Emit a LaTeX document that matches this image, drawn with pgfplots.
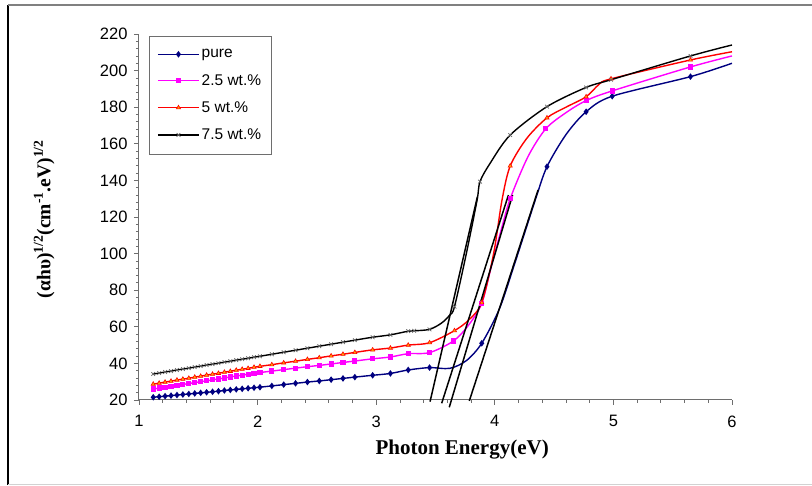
\documentclass[border=0pt]{standalone}
\usepackage{fontspec}
\setmainfont{Liberation Sans}
\newfontfamily\tnr{Liberation Serif}
\usepackage{pgfplots}
\pgfplotsset{compat=1.18}
\definecolor{navyc}{RGB}{0,0,128}
\definecolor{magc}{RGB}{255,0,255}
\definecolor{redc}{RGB}{255,0,0}
\definecolor{axisc}{RGB}{110,110,110}
\begin{document}
\begin{tikzpicture}[x=1pt,y=1pt]
\useasboundingbox (0,0) rectangle (812,486);
\draw[black, line width=1.2pt] (8,1) -- (8,481);
\draw[gray, line width=1.2pt] (8,481) -- (812,481);
\draw[gray!35, line width=1pt] (8,1) -- (812,1);
\begin{axis}[
  at={(139pt,86pt)}, anchor=south west,
  scale only axis, width=593pt, height=366pt,
  xmin=1, xmax=6, ymin=20, ymax=220,
  xtick={1,2,...,6}, ytick={20,40,...,220},
  minor x tick num=4, minor y tick num=4,
  axis lines=left, axis line style={-, axisc, line width=1pt},
  tick style={axisc, line width=0.8pt},
  tick align=outside,
  major tick length=5pt, minor tick length=3pt,
  /pgf/number format/assume math mode=true,
  ticklabel style={font=\fontsize{16.5}{18}\selectfont},
  xticklabel style={yshift=-7pt},
  yticklabel style={xshift=-3pt},
  xlabel={\tnr\bfseries Photon Energy(eV)},
  ylabel={\tnr\bfseries (αhυ)\textsuperscript{1/2}(cm\textsuperscript{-1}.eV)\textsuperscript{1/2}},
  xlabel style={font=\fontsize{21}{24}\selectfont, at={(axis description cs:0.545,-0.135)}, anchor=center},
  ylabel style={font=\fontsize{19.5}{22}\selectfont, at={(axis description cs:-0.160,0.4945)}, anchor=center},
  clip=false,
  every axis plot/.append style={line width=1.4pt, smooth, tension=0.5},
  legend style={at={(0.017,0.994)}, anchor=north west, draw=axisc,
    font=\fontsize{15.5}{18}\selectfont, row sep=11pt, inner xsep=8pt, inner ysep=11pt,
    cells={anchor=west}, /tikz/every even column/.style={column sep=7pt}},
  legend image code/.code={\draw[#1, mark indices={2}] plot coordinates {(0pt,0pt) (20.5pt,0pt) (41pt,0pt)};},
  legend image post style={line width=1.4pt},
]
% pure
\addplot[navyc, mark=diamond*, mark size=2.2pt, mark options={solid},
  mark indices={1,2,3,4,5,6,7,8,9,10,11,12,13,14,15,16,17,18,19,20,21,22,23,24,25,26,27,28,29,30,31,34,39,41,42,43}]
coordinates {
(1.12,21.5) (1.17,21.8) (1.22,22.1) (1.27,22.4) (1.32,22.7) (1.37,23.0) (1.42,23.3) (1.47,23.6)
(1.52,23.9) (1.57,24.2) (1.62,24.5) (1.67,24.8) (1.72,25.2) (1.77,25.5) (1.82,25.8) (1.87,26.1)
(1.92,26.4) (1.97,26.7) (2.02,27.0) (2.12,27.7) (2.22,28.4) (2.32,29.1) (2.42,29.8) (2.52,30.4)
(2.62,31.1) (2.72,31.8) (2.82,32.5) (2.97,33.5) (3.12,34.5) (3.27,36.4) (3.45,37.7)
(3.62,37.3) (3.76,41.5) (3.89,51) (4.04,70) (4.16,93) (4.27,115) (4.35,131) (4.44,147.5)
(4.6,165) (4.77,177.5) (4.99,186) (5.65,196.7) (6.0,204)};
\addlegendentry{pure}
% 2.5 wt.%
\addplot[magc, mark=square*, mark size=1.9pt,
  mark indices={1,2,3,4,5,6,7,8,9,10,11,12,13,14,15,16,17,18,19,20,21,22,23,24,25,26,27,28,29,30,31,32,34,37,39,41,42,43}]
coordinates {
(1.12,26.0) (1.17,26.5) (1.22,27.0) (1.27,27.5) (1.32,28.0) (1.37,28.5) (1.42,29.0) (1.47,29.5)
(1.52,30.0) (1.57,30.5) (1.62,31.0) (1.67,31.5) (1.72,32.0) (1.77,32.6) (1.82,33.1) (1.87,33.6)
(1.92,34.1) (1.97,34.6) (2.02,35.0) (2.12,35.8) (2.22,36.6) (2.32,37.4) (2.42,38.2) (2.52,38.9)
(2.62,39.7) (2.72,40.5) (2.82,41.3) (2.97,42.5) (3.12,43.5) (3.27,45.3) (3.45,45.9)
(3.65,52.2) (3.78,61) (3.89,72.8) (3.97,92.8) (4.05,112) (4.13,130) (4.28,153) (4.43,168.2)
(4.6,177) (4.77,183.6) (4.99,188.9) (5.65,202) (6.0,208)};
\addlegendentry{2.5 wt.\%}
% 5 wt.%
\addplot[redc, mark=triangle*, mark size=2.4pt, mark options={fill=orange!70!yellow, draw=redc, line width=0.6pt},
  mark indices={1,2,3,4,5,6,7,8,9,10,11,12,13,14,15,16,17,18,19,20,21,22,23,24,25,26,27,28,29,30,31,32,34,37,39,41,43,44}]
coordinates {
(1.12,28.7) (1.17,29.2) (1.22,29.8) (1.27,30.3) (1.32,30.9) (1.37,31.4) (1.42,31.9) (1.47,32.5)
(1.52,33.0) (1.57,33.6) (1.62,34.1) (1.67,34.6) (1.72,35.2) (1.77,35.7) (1.82,36.3) (1.87,36.8)
(1.92,37.3) (1.97,37.9) (2.02,38.4) (2.12,39.3) (2.22,40.3) (2.32,41.2) (2.42,42.2) (2.52,43.1)
(2.62,44.1) (2.72,45.0) (2.82,46.0) (2.97,47.4) (3.12,48.4) (3.27,50.0) (3.45,51.3)
(3.66,57.9) (3.78,63.7) (3.89,73.2) (3.99,100) (4.06,129) (4.13,147.9) (4.27,163) (4.44,174.2)
(4.6,180) (4.77,185.7) (4.88,192.5) (4.98,195.5) (5.65,205.8) (6.0,210.3)};
\addlegendentry{5 wt.\%}
% 7.5 wt.%
\addplot[black, mark=x, mark size=2.6pt, mark options={draw=gray!80!black, line width=0.7pt},
  mark indices={1,2,3,4,5,6,7,8,9,10,11,12,13,14,15,16,17,18,19,20,21,22,23,24,25,26,27,28,29,30,31,32,35,38,40,41,42,43,44}]
coordinates {
(1.12,34.2) (1.17,34.7) (1.22,35.3) (1.27,35.8) (1.32,36.4) (1.37,36.9) (1.42,37.4) (1.47,38.0)
(1.52,38.5) (1.57,39.1) (1.62,39.6) (1.67,40.1) (1.72,40.7) (1.77,41.2) (1.82,41.8) (1.87,42.3)
(1.92,42.8) (1.97,43.4) (2.02,43.9) (2.12,45.0) (2.22,46.1) (2.32,47.2) (2.42,48.3) (2.52,49.4)
(2.62,50.5) (2.72,51.6) (2.82,52.7) (2.97,54.3) (3.12,55.6) (3.27,57.6) (3.32,57.8) (3.45,58.6)
(3.55,62) (3.62,66.4) (3.66,71) (3.76,100) (3.85,129) (3.875,139.3) (3.96,149.3) (4.13,164.8)
(4.44,180.3) (4.77,190.8) (4.98,195) (5.65,208) (6.0,214)};
\addlegendentry{7.5 wt.\%}
% tangent lines
\addplot[black, line width=1.5pt, no marks, sharp plot, forget plot] coordinates {(3.454,19.1) (3.853,131)};
\addplot[black, line width=1.5pt, no marks, sharp plot, forget plot] coordinates {(3.552,18.2) (4.115,132)};
\addplot[black, line width=1.5pt, no marks, sharp plot, forget plot] coordinates {(3.616,16.0) (4.150,132)};
\addplot[black, line width=1.5pt, no marks, sharp plot, forget plot] coordinates {(3.785,19.5) (4.365,134.8)};
\end{axis}
\end{tikzpicture}
\end{document}
